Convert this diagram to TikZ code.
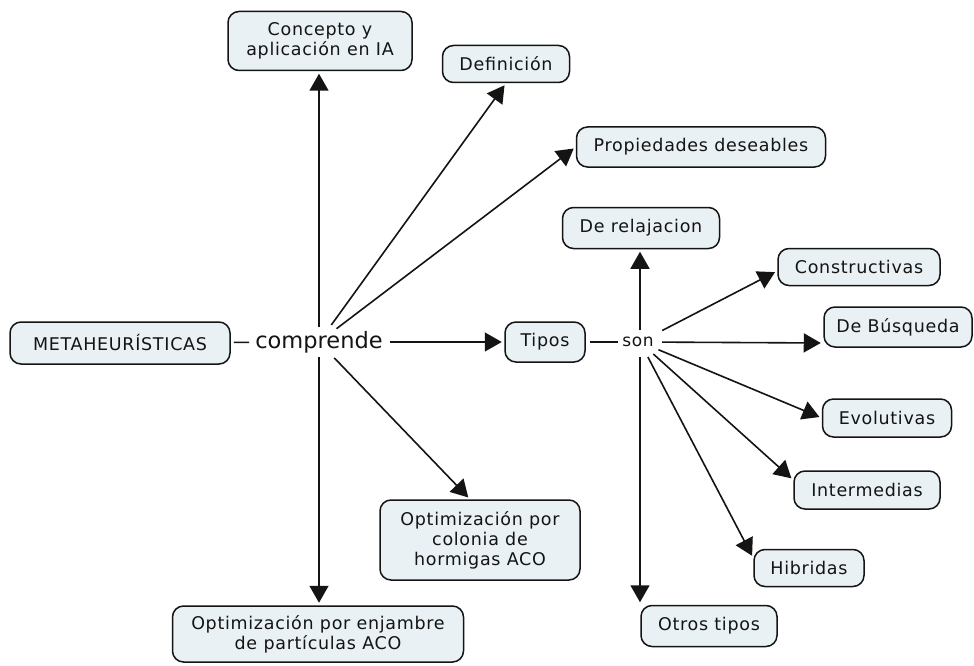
\documentclass[tikz,border=0pt]{standalone}
\usepackage{fontspec}
\setmainfont{DejaVu Sans}
\newfontfamily\boxfont[LetterSpace=4]{DejaVu Sans}
\usetikzlibrary{arrows.meta}
\definecolor{boxfill}{RGB}{233,241,244}
\definecolor{ink}{RGB}{20,20,20}
\tikzset{
  concept/.style={draw=ink, line width=1.5pt, fill=boxfill, rounded corners=11pt,
    font=\boxfont\fontsize{17.5}{20}\selectfont, align=center, inner sep=0pt, text=ink},
  linkword/.style={inner sep=2pt, text=ink},
  link/.style={draw=ink, line width=1.6pt},
  arrowlink/.style={link, shorten >=2.5pt, -{Triangle[length=17pt,width=19pt]}},
}
\begin{document}
\begin{tikzpicture}[x=1pt,y=-1pt]
\useasboundingbox (0,0) rectangle (974,666);
\fill[white] (0,0) rectangle (974,666);

% concepts
\node[concept, minimum width=220pt, minimum height=42pt] (meta) at (120,343) {METAHEURÍSTICAS};
\node[concept, minimum width=184pt, minimum height=59pt] (conc) at (320,41) {Concepto y\\aplicación en IA};
\node[concept, minimum width=127pt, minimum height=37pt] (defi) at (506,64) {Definición};
\node[concept, minimum width=249pt, minimum height=40pt] (prop) at (701,147) {Propiedades deseables};
\node[concept, minimum width=80pt, minimum height=40pt] (tipos) at (545,342) {Tipos};
\node[concept, minimum width=157pt, minimum height=41pt] (relaj) at (641,228) {De relajacion};
\node[concept, minimum width=162pt, minimum height=37pt] (constr) at (859,267) {Constructivas};
\node[concept, minimum width=148pt, minimum height=40pt] (busq) at (898,327) {De Búsqueda};
\node[concept, minimum width=129pt, minimum height=38pt] (evol) at (887,418) {Evolutivas};
\node[concept, minimum width=146pt, minimum height=38pt] (inter) at (867,490) {Intermedias};
\node[concept, minimum width=110pt, minimum height=37pt] (hibr) at (809,568) {Hibridas};
\node[concept, minimum width=136pt, minimum height=41pt] (otros) at (709,626) {Otros tipos};
\node[concept, minimum width=200pt, minimum height=80pt] (aco) at (480,540) {Optimización por\\colonia de\\hormigas ACO};
\node[concept, minimum width=291pt, minimum height=56pt] (pso) at (318,634) {Optimización por enjambre\\de partículas ACO};

% linking phrases
\node[linkword, font=\fontsize{22.5}{26}\selectfont] (comp) at (319,342) {comprende};
\node[linkword, font=\boxfont\fontsize{17}{20}\selectfont] (son) at (638,342) {son};

% METAHEURÍSTICAS -- comprende
\draw[link, shorten <=3pt, shorten >=4pt] (meta) -- (comp);
\draw[arrowlink, shorten <=15pt] (comp.center) -- (comp.center |- conc.south);
\draw[arrowlink, shorten <=21pt] (comp.center) -- (defi.south);
\draw[arrowlink, shorten <=22pt] (comp.center) -- (prop.west);
\draw[arrowlink, shorten <=71pt] (comp.center) -- (tipos.west);
\draw[arrowlink, shorten <=22pt] (comp.center) -- ([xshift=-10pt]aco.north);
\draw[arrowlink, shorten <=15pt] (comp.center) -- (comp.center |- pso.north);

% Tipos -- son
\draw[link, shorten <=4pt, shorten >=2pt] (tipos) -- (son);
\coordinate (sc) at ([xshift=2pt]son.center);
\draw[arrowlink, shorten <=12pt] (sc) -- (sc |- relaj.south);
\draw[arrowlink, shorten <=25pt] (sc) -- ([yshift=-4pt]constr.west);
\draw[arrowlink, shorten <=22pt] (sc) -- ([yshift=-16pt]busq.west);
\draw[arrowlink, shorten <=20pt] (sc) -- (evol.west);
\draw[arrowlink, shorten <=18pt] (sc) -- ([yshift=10pt]inter.west);
\draw[arrowlink, shorten <=17pt] (sc) -- ([yshift=10pt]hibr.west);
\draw[arrowlink, shorten <=15pt] (sc) -- (sc |- otros.north);
\end{tikzpicture}
\end{document}
